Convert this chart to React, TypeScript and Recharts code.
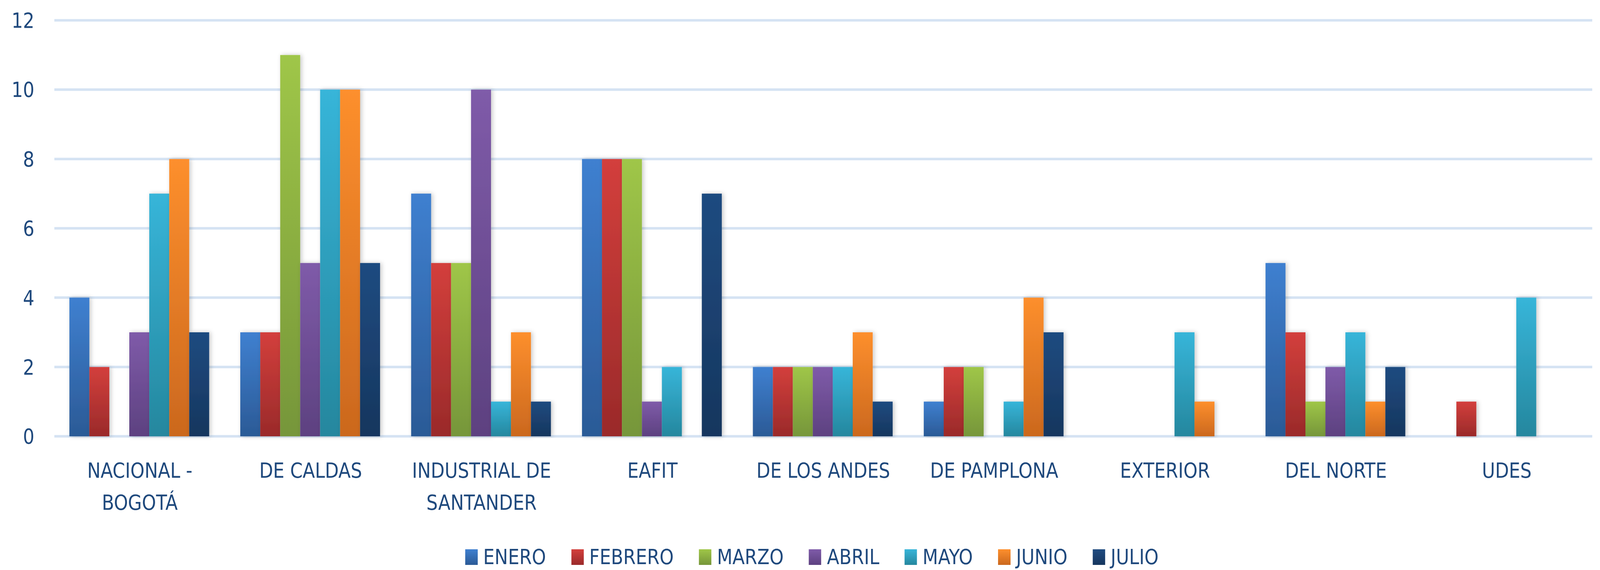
import React from "react";
import { BarChart, Bar, XAxis, YAxis, CartesianGrid, Legend } from "recharts";

const categories = [
  "NACIONAL - BOGOTÁ", "DE CALDAS", "INDUSTRIAL DE SANTANDER", "EAFIT", "DE LOS ANDES",
  "DE PAMPLONA", "EXTERIOR", "DEL NORTE", "UDES",
];
const months = ["ENERO", "FEBRERO", "MARZO", "ABRIL", "MAYO", "JUNIO", "JULIO"];

const enero = [4, 3, 7, 8, 2, 1, 0, 5, 0];
const febrero = [2, 3, 5, 8, 2, 2, 0, 3, 1];
const marzo = [0, 11, 5, 8, 2, 2, 0, 1, 0];
const abril = [3, 5, 10, 1, 2, 0, 0, 2, 0];
const mayo = [7, 10, 1, 2, 2, 1, 3, 3, 4];
const junio = [8, 10, 3, 0, 3, 4, 1, 1, 0];
const julio = [3, 5, 1, 7, 1, 3, 0, 2, 0];
const yTicks = [0, 2, 4, 6, 8, 10, 12];

const series = [enero, febrero, marzo, abril, mayo, junio, julio];
// top / bottom of each bar gradient
const shades = [
  ["#3f80d0", "#2b5a96"],
  ["#d33f3c", "#9a2a2a"],
  ["#9fc648", "#76963a"],
  ["#7f5ba9", "#5d4180"],
  ["#37b5d9", "#25879e"],
  ["#fd8f2d", "#cb681e"],
  ["#1f4b80", "#16365e"],
];

const data = categories.map((c, i) => {
  const row: Record<string, string | number> = { name: c };
  months.forEach((m, j) => (row[m] = series[j][i]));
  return row;
});

const FONT = "'Liberation Sans Narrow', 'Arial Narrow', 'DejaVu Sans Condensed', sans-serif";
const TEXT = "#1f497d";
const FS = 54;
const W = 4327;
const H = 1458;

if (typeof document !== "undefined") {
  document.body.style.margin = "0";
  document.body.style.overflow = "hidden";
}

function wrap(s: string, max = 13) {
  const lines: string[] = [];
  let cur = "";
  for (const w of s.split(" ")) {
    const next = cur ? cur + " " + w : w;
    if (next.length > max && cur) {
      lines.push(cur);
      cur = w;
    } else cur = next;
  }
  if (cur) lines.push(cur);
  return lines;
}

function CatTick({ x, y, payload }: any) {
  const lines = wrap(payload.value);
  return (
    <text x={x} y={y} textAnchor="middle" fill={TEXT} fontFamily={FONT} fontSize={FS}>
      {lines.map((l, i) => (
        <tspan key={i} x={x} dy={i === 0 ? 106 : 82}>{l}</tspan>
      ))}
    </text>
  );
}

function MonthLegend() {
  return (
    <div style={{ display: "flex", justifyContent: "center", height: 60, paddingLeft: 64, fontFamily: FONT, fontSize: FS, lineHeight: "60px", color: TEXT }}>
      {months.map((m, i) => (
        <div key={m} style={{ display: "flex", alignItems: "center", marginRight: i < months.length - 1 ? 68 : 0 }}>
          <svg width={34} height={40} style={{ marginRight: 15 }}>
            <rect width={34} height={40} fill={`url(#g${i})`} />
          </svg>
          <span>{m}</span>
        </div>
      ))}
    </div>
  );
}

export default function App() {
  // the browser window may be narrower than the chart: fit it in
  const vw = typeof window !== "undefined" ? window.innerWidth : W;
  const vh = typeof window !== "undefined" ? window.innerHeight : H;
  const sx = Math.min(1, vw / W);
  const sy = Math.min(1, vh / H);
  return (
    <div
      style={{
        position: "absolute", left: 0, top: 0, width: W, height: H, background: "#fff",
        overflow: "hidden", transform: `scale(${sx}, ${sy})`, transformOrigin: "0 0",
      }}
    >
      <BarChart
        width={W}
        height={H}
        data={data}
        margin={{ top: 52, right: 21, left: 0, bottom: 0 }}
        barCategoryGap="8.8%"
        barGap={0}
      >
        <defs>
          {shades.map(([a, b], i) => (
            <linearGradient key={i} id={`g${i}`} x1="0" y1="0" x2="0" y2="1">
              <stop offset="0%" stopColor={a} />
              <stop offset="100%" stopColor={b} />
            </linearGradient>
          ))}
          <filter id="sh" x="-40%" y="-5%" width="180%" height="110%">
            <feDropShadow dx="4" dy="0" stdDeviation="6" floodColor="#000" floodOpacity="0.22" />
          </filter>
        </defs>
        <CartesianGrid vertical={false} stroke="#d5e3f3" strokeWidth={6.5} />
        <XAxis
          dataKey="name"
          axisLine={false}
          tickLine={false}
          tickSize={0}
          tickMargin={0}
          height={282}
          interval={0}
          tick={<CatTick />}
        />
        <YAxis
          domain={[0, 12]}
          ticks={yTicks}
          axisLine={false}
          tickLine={false}
          tickSize={0}
          tickMargin={54}
          width={147}
          tick={{ fill: TEXT, fontSize: FS, fontFamily: FONT }}
        />
        <Legend verticalAlign="bottom" wrapperStyle={{ left: 0, width: W, bottom: 3 }} content={<MonthLegend />} />
        {months.map((m, i) => (
          <Bar key={m} dataKey={m} fill={`url(#g${i})`} filter="url(#sh)" isAnimationActive={false} />
        ))}
      </BarChart>
    </div>
  );
}
